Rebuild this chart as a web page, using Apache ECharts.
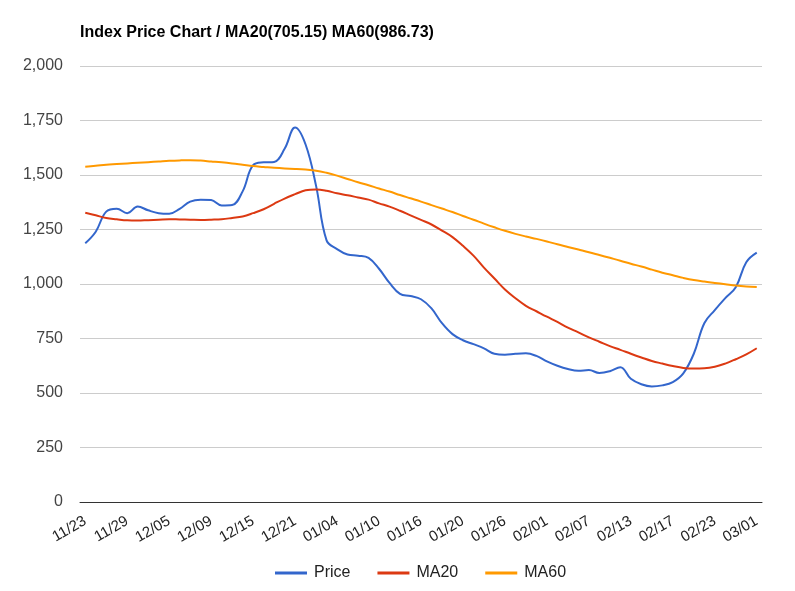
<!DOCTYPE html>
<html>
<head>
<meta charset="utf-8">
<script src="https://cdn.jsdelivr.net/npm/echarts@6/dist/echarts.min.js"></script>
<style>html,body{margin:0;padding:0;background:#fff;}#c{width:795px;height:591px;}</style>
</head>
<body>
<div id="c"></div>
<script>
const categories = [
  '11/23','11/24','11/27','11/28',
  '11/29','11/30','12/01','12/04',
  '12/05','12/06','12/07','12/08',
  '12/09','12/11','12/12','12/14',
  '12/15','12/18','12/19','12/20',
  '12/21','12/26','12/28','01/02',
  '01/04','01/05','01/08','01/09',
  '01/10','01/11','01/12','01/15',
  '01/16','01/17','01/18','01/19',
  '01/20','01/22','01/23','01/24',
  '01/26','01/29','01/30','01/31',
  '02/01','02/02','02/05','02/06',
  '02/07','02/08','02/09','02/12',
  '02/13','02/14','02/15','02/16',
  '02/17','02/20','02/21','02/22',
  '02/23','02/26','02/27','02/28',
  '03/01'
];
const price = [
  1187,1240,1332,1345, 1325,1355,1338,1325, 1322,1345,1378,1387, 1385,1360,1362,1425,
  1545,1558,1560,1620, 1718,1640,1450,1200, 1160,1135,1130,1120, 1070,1005,955,945,
  930,888,820,770, 742,724,705,680, 676,680,682,670, 645,625,610,602,
  605,592,600,618, 565,540,530,535, 550,590,680,820, 880,935,985,1100, 1144
];
const ma20 = [
  1327,1315,1303,1297, 1292,1291,1293,1295, 1297,1296,1295,1294, 1295,1297,1303,1310,
  1325,1343,1368,1392, 1412,1430,1434,1428, 1416,1407,1397,1387, 1370,1355,1336,1315,
  1294,1273,1245,1215, 1175,1130,1075,1025, 975,935,900,875, 850,826,800,778,
  755,735,715,698, 680,663,647,635, 624,615,612,613, 620,635,655,677, 705.15
];
const ma60 = [
  1538,1542,1547,1550, 1553,1556,1559,1562, 1565,1567,1568,1566, 1562,1558,1553,1547,
  1541,1537,1533,1530, 1528,1525,1520,1510, 1497,1482,1467,1453, 1438,1424,1408,1393,
  1378,1362,1346,1330, 1312,1295,1277,1260, 1244,1230,1218,1207, 1195,1182,1170,1158,
  1146,1133,1120,1107, 1093,1080,1066,1052, 1040,1028,1018,1011, 1005,999,993,989, 986.73
];
const yTicks = { min: 0, max: 2000, interval: 250 };
const titleText = 'Index Price Chart / MA20(705.15) MA60(986.73)';

const chart = echarts.init(document.getElementById('c'), null, { renderer: 'canvas' });
const font = '"Liberation Sans", Arial, sans-serif';
function line(name, data, color) {
  return {
    name, type: 'line', data, smooth: 0.4, symbol: 'none',
    lineStyle: { width: 2, color }, itemStyle: { color }
  };
}
chart.setOption({
  animation: false,
  textStyle: { fontFamily: font },
  title: {
    text: titleText, left: 75, top: 20,
    textStyle: { fontFamily: font, fontSize: 16, fontWeight: 'bold', color: '#000' }
  },
  grid: { left: 80, right: 33, top: 66, bottom: 89, containLabel: false },
  legend: {
    bottom: 5, left: 270, itemGap: 27, itemWidth: 32, itemHeight: 3,
    icon: 'rect',
    textStyle: { fontFamily: font, fontSize: 16, color: '#222', padding: [0, 0, 0, 2] },
    data: ['Price', 'MA20', 'MA60']
  },
  xAxis: {
    type: 'category', data: categories, boundaryGap: true,
    axisLine: { lineStyle: { color: '#333', width: 1 } },
    axisTick: { show: false },
    axisLabel: { interval: 3, rotate: 30, margin: 18, fontFamily: font, fontSize: 15, color: '#222' },
    splitLine: { show: false }
  },
  yAxis: {
    type: 'value', min: yTicks.min, max: yTicks.max, interval: yTicks.interval,
    axisLine: { show: false }, axisTick: { show: false },
    axisLabel: {
      margin: 17, fontFamily: font, fontSize: 16, color: '#444',
      formatter: v => v.toLocaleString('en-US')
    },
    splitLine: { lineStyle: { color: '#cccccc', width: 1 } }
  },
  series: [
    line('Price', price, '#3366cc'),
    line('MA20', ma20, '#dc3912'),
    line('MA60', ma60, '#ff9900')
  ]
});
</script>
</body>
</html>
